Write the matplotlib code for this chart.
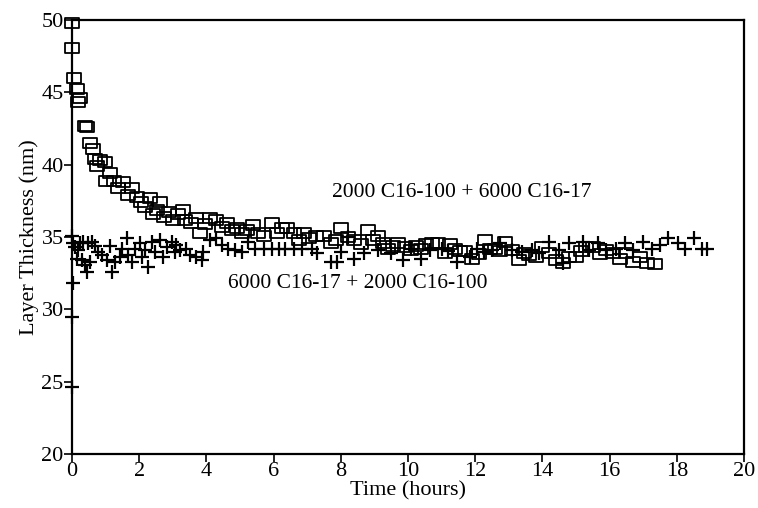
import matplotlib
matplotlib.use("Agg")
import matplotlib.pyplot as plt
from matplotlib.path import Path

# Series 1: squares  "2000 C16-100 + 6000 C16-17"
sq_t = [0.00, 0.00, 0.06, 0.14, 0.18, 0.24, 0.40, 0.45, 0.54, 0.62,
        0.68, 0.73, 0.83, 0.98, 1.00, 1.13, 1.25, 1.37, 1.52, 1.67,
        1.79, 1.93, 2.05, 2.17, 2.32, 2.40, 2.53, 2.62, 2.75, 2.90,
        3.00, 3.15, 3.30, 3.35, 3.55, 3.70, 3.80, 3.95, 4.10, 4.30,
        4.45, 4.60, 4.75, 4.90, 5.05, 5.20, 5.40, 5.55, 5.70, 5.95,
        6.10, 6.25, 6.40, 6.60, 6.75, 6.90, 7.05, 7.25, 7.50, 7.70,
        7.85, 8.00, 8.20, 8.40, 8.60, 8.80, 8.95, 9.10, 9.25, 9.40,
        9.55, 9.70, 9.90, 10.10, 10.25, 10.40, 10.55, 10.70, 10.90, 11.10,
        11.25, 11.40, 11.55, 11.70, 11.90, 12.10, 12.30, 12.45, 12.60, 12.75,
        12.90, 13.10, 13.30, 13.45, 13.60, 13.80, 14.00, 14.20, 14.40, 14.60,
        14.80, 15.00, 15.15, 15.30, 15.50, 15.70, 15.90, 16.10, 16.30, 16.50,
        16.70, 16.90, 17.10, 17.35]
sq_v = [49.8, 48.1, 46.0, 45.2, 44.3, 44.6, 42.7, 42.6, 41.5, 41.1,
        40.4, 39.9, 40.3, 40.2, 38.9, 39.4, 38.9, 38.4, 38.8, 37.9,
        38.4, 37.8, 37.4, 37.1, 37.7, 36.6, 36.9, 37.4, 36.4, 36.7,
        36.2, 36.6, 36.9, 36.2, 36.0, 36.3, 35.3, 35.9, 36.3, 36.2,
        35.7, 36.0, 35.5, 35.6, 35.3, 35.5, 35.8, 35.3, 35.1, 36.0,
        35.3, 35.6, 35.6, 35.3, 34.8, 35.3, 34.9, 35.1, 35.1, 34.6,
        34.8, 35.6, 35.0, 34.8, 34.5, 35.5, 34.8, 35.1, 34.6, 34.2,
        34.4, 34.6, 34.3, 34.1, 34.4, 34.2, 34.5, 34.6, 34.6, 33.9,
        34.5, 34.2, 34.0, 34.0, 33.5, 33.8, 34.8, 34.2, 34.2, 34.0,
        34.65, 34.1, 33.4, 33.9, 33.75, 33.6, 34.3, 33.9, 33.4, 33.2,
        33.6, 33.6, 34.0, 34.3, 34.3, 33.8, 34.1, 33.9, 33.5, 33.9,
        33.3, 33.6, 33.2, 33.1]

# Series 2: pluses  "6000 C16-17 + 2000 C16-100"
pl_t = [0.00, 0.00, 0.03, 0.00, 0.03, 0.09, 0.15, 0.18, 0.24, 0.30,
        0.33, 0.39, 0.45, 0.48, 0.54, 0.60, 0.68, 0.77, 0.89, 1.04,
        1.13, 1.19, 1.28, 1.43, 1.49, 1.64, 1.67, 1.79, 1.88, 2.02,
        2.08, 2.17, 2.26, 2.38, 2.47, 2.62, 2.71, 2.83, 2.98, 3.07,
        3.10, 3.20, 3.40, 3.50, 3.70, 3.87, 3.90, 4.10, 4.30, 4.45,
        4.65, 4.85, 5.05, 5.25, 5.45, 5.70, 5.95, 6.15, 6.35, 6.60,
        6.85, 7.15, 7.30, 7.70, 7.90, 8.00, 8.20, 8.40, 8.70, 9.10,
        9.50, 9.85, 10.10, 10.40, 10.65, 11.00, 11.20, 11.45, 11.85, 12.05,
        12.25, 12.50, 12.75, 13.10, 13.40, 13.70, 13.90, 14.20, 14.50, 14.60,
        14.80, 15.20, 15.40, 15.65, 15.90, 16.20, 16.45, 16.70, 17.00, 17.25,
        17.50, 17.75, 18.05, 18.25, 18.50, 18.75, 18.90]
pl_v = [24.6, 29.5, 31.8, 35.1, 34.6, 34.3, 33.5, 34.1, 34.6, 33.4,
        34.65, 33.06, 32.6, 34.6, 33.3, 34.65, 34.4, 33.96, 33.75, 33.4,
        34.4, 32.6, 33.3, 33.6, 34.2, 34.9, 33.75, 33.3, 34.2, 34.6,
        33.6, 34.1, 32.9, 34.65, 33.96, 34.8, 33.6, 34.3, 34.65, 33.96,
        34.45, 34.1, 34.2, 33.75, 33.6, 33.4, 33.96, 34.8, 34.9, 34.45,
        34.2, 34.1, 33.96, 34.65, 34.2, 34.2, 34.2, 34.2, 34.2, 34.2,
        34.2, 34.2, 33.9, 33.3, 33.3, 33.96, 35.0, 33.5, 33.9, 34.1,
        33.9, 33.4, 34.2, 33.5, 34.1, 34.2, 34.0, 33.3, 33.6, 34.2,
        33.96, 34.1, 34.6, 34.1, 33.96, 34.1, 33.9, 34.65, 34.1, 33.2,
        34.6, 34.65, 34.1, 34.6, 34.1, 34.2, 34.6, 34.1, 34.65, 34.2,
        34.45, 34.9, 34.6, 34.2, 34.9, 34.2, 34.2]

label_sq = "2000 C16-100 + 6000 C16-17"
label_pl = "6000 C16-17 + 2000 C16-100"
x_ticks = [0, 2, 4, 6, 8, 10, 12, 14, 16, 18, 20]
y_ticks = [20, 25, 30, 35, 40, 45, 50]

plt.rcParams['font.family'] = ['Liberation Serif', 'DejaVu Serif']

fig = plt.figure(figsize=(7.58, 5.08), dpi=100)
ax = fig.add_axes([0.095, 0.1063, 0.8865, 0.8543])

rect = Path([(-1, -0.7), (1, -0.7), (1, 0.7), (-1, 0.7), (-1, -0.7)],
            [Path.MOVETO, Path.LINETO, Path.LINETO, Path.LINETO, Path.CLOSEPOLY])

ax.plot(sq_t, sq_v, linestyle='none', marker=rect, markersize=10,
        markerfacecolor='none', markeredgecolor='black', markeredgewidth=1.3,
        clip_on=False)
ax.plot(pl_t, pl_v, linestyle='none', marker='+', markersize=9.5,
        markeredgecolor='black', markeredgewidth=1.6, clip_on=False)

ax.text(7.75, 38.1, label_sq, fontsize=15.5, va='center', ha='left')
ax.text(4.65, 31.8, label_pl, fontsize=15.5, va='center', ha='left')

ax.set_xlim(0, 20)
ax.set_ylim(20, 50)
ax.set_xticks(x_ticks)
ax.set_yticks(y_ticks)
ax.tick_params(direction='out', length=6, width=1.2, labelsize=16, pad=0,
               top=False, right=False)
for s in ax.spines.values():
    s.set_linewidth(1.6)

ax.set_xlabel("Time (hours)", fontsize=16, labelpad=0)
ax.set_ylabel("Layer Thickness (nm)", fontsize=16, labelpad=2)

fig.savefig("out.png", dpi=100)
